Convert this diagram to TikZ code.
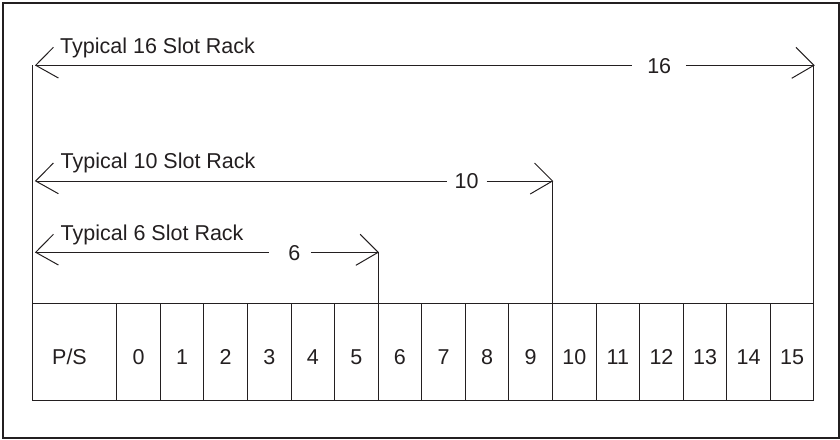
\documentclass[tikz,border=0pt]{standalone}
\usepackage{fontspec}
\setmainfont{Liberation Sans}
\definecolor{ink}{HTML}{231F20}
\tikzset{
  ln/.style={line width=1pt, draw=ink},
  framebox/.style={line width=2pt, draw=ink},
  lbl/.style={font=\fontsize{21.5}{25}\selectfont, text=ink, inner sep=0pt},
  slotbox/.style={draw=ink, line width=1pt, minimum height=97.7pt, minimum width=43.58pt, inner sep=0pt, outer sep=0pt},
  pics/headL/.style={code={\draw[ln] (17.7,-18) -- (0,0) -- (22.7,12.7);}},
  pics/headR/.style={code={\draw[ln] (-18,-18) -- (0,0) -- (-22.3,13);}}
}
\begin{document}
\begin{tikzpicture}[x=1pt,y=-1pt]
\useasboundingbox (0,0) rectangle (840,439);
% outer frame
\draw[framebox] (2.7,3.3) rectangle (839,437.5);

% slot row
\node[slotbox, minimum width=84.4pt, anchor=north west] (ps) at (32.3,303) {};
\foreach \i in {0,...,15}{
  \node[slotbox, anchor=north west] (s\i) at ({116.7+\i*43.58},303) {};
  \node[lbl, anchor=base] (l\i) at (s\i.center |- 0,364.8) {\i};
}
\node[lbl, anchor=base] (lps) at (69.5,364.8) {P/S};

% extension lines
\coordinate (top16L) at (32.3,65.3);
\coordinate (a16R) at (s15.north east |- 0,65.3);
\coordinate (a10R) at (s10.north west |- 0,181);
\coordinate (a6R) at (s6.north west |- 0,252.3);
\draw[ln] (top16L) -- (ps.north west);
\draw[ln] (a16R) -- (s15.north east);
\draw[ln] (a10R) -- (s10.north west);
\draw[ln] (a6R) -- (s6.north west);

% left arrow tips
\coordinate (a16L) at (35.7,65.3);
\coordinate (a10L) at (35.7,181);
\coordinate (a6L) at (35.7,252.3);

% dimension labels
\node[lbl] (n16) at (659.2,65.8) {16};
\node[lbl] (n10) at (466.7,181.5) {10};
\node[lbl] (n6) at (294.3,252.8) {6};

\draw[ln] (a16L) -- ([xshift=-15.5pt]n16.west |- a16L);
\draw[ln] ([xshift=14.5pt]n16.east |- a16R) -- (a16R);
\draw[ln] (a10L) -- ([xshift=-7.8pt]n10.west |- a10L);
\draw[ln] ([xshift=7.8pt]n10.east |- a10R) -- (a10R);
\draw[ln] (a6L) -- ([xshift=-19.2pt]n6.west |- a6L);
\draw[ln] ([xshift=10.5pt]n6.east |- a6R) -- (a6R);

\pic at (a16L) {headL};
\pic at (a10L) {headL};
\pic at (a6L) {headL};
\pic at (a16R) {headR};
\pic at (a10R) {headR};
\pic at (a6R) {headR};

% rack labels
\node[lbl, anchor=base west] (t16) at (60,53.3) {Typical 16 Slot Rack};
\node[lbl, anchor=base west] (t10) at (60.5,168.7) {Typical 10 Slot Rack};
\node[lbl, anchor=base west] (t6) at (60.5,240.2) {Typical 6 Slot Rack};
\end{tikzpicture}
\end{document}
